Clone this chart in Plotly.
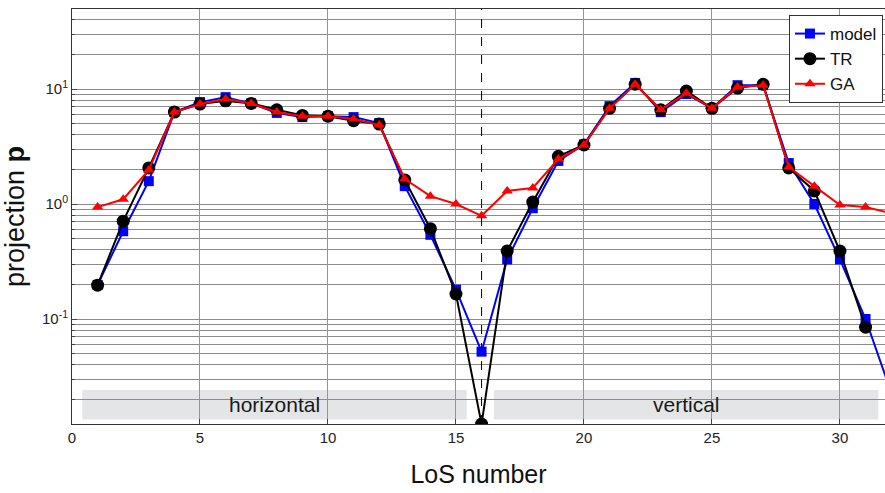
import math
import plotly.graph_objects as go

# LoS index 1..31 (plus one extra point past the right edge for the clipped segments)
los = list(range(1, 33))

model = [0.198, 0.58, 1.58, 6.3, 7.7, 8.5, 7.5, 6.2, 5.7, 5.8, 5.7, 5.06,
         1.43, 0.54, 0.18, 0.052, 0.33, 0.92, 2.37, 3.3, 7.1, 11.3, 6.3, 9.05,
         6.8, 10.8, 10.8, 2.27, 1.0, 0.33, 0.1, 0.023]
tr = [0.197, 0.71, 2.06, 6.3, 7.4, 7.9, 7.5, 6.6, 5.9, 5.8, 5.3, 4.96,
      1.62, 0.61, 0.165, 0.0122, 0.39, 1.04, 2.6, 3.26, 6.8, 11.0, 6.6, 9.6,
      6.8, 10.2, 11.0, 2.06, 1.3, 0.39, 0.085]
ga = [0.94, 1.1, 1.98, 6.3, 7.4, 8.2, 7.5, 6.3, 5.8, 5.8, 5.5, 4.86,
      1.65, 1.17, 1.0, 0.79, 1.3, 1.38, 2.46, 3.26, 6.8, 11.0, 6.6, 9.2,
      6.8, 10.4, 10.8, 2.1, 1.43, 0.98, 0.94, 0.83]

# orientation bands: (label, x0, x1)
bands = [("horizontal", 0.4, 15.42), ("vertical", 16.48, 31.5)]
band_y = (0.0134, 0.0241)
split_los = 16

x_ticks = [0, 5, 10, 15, 20, 25, 30]
y_ticks = [0.1, 1, 10]
y_ticktext = ["10<sup>-1</sup>", "10<sup>0</sup>", "10<sup>1</sup>"]
# minor log grid: 2..9 of each decade
y_minor = [m * 10.0 ** e for e in (-2, -1, 0, 1) for m in range(2, 10)]

fig = go.Figure()
fig.add_trace(go.Scatter(x=los[:len(model)], y=model, name="model", mode="lines+markers",
                         line=dict(color="#0000ff", width=2),
                         marker=dict(symbol="square", size=10, color="#0000ff")))
fig.add_trace(go.Scatter(x=los[:len(tr)], y=tr, name="TR", mode="lines+markers",
                         line=dict(color="#000000", width=2),
                         marker=dict(symbol="circle", size=13, color="#000000")))
fig.add_trace(go.Scatter(x=los[:len(ga)], y=ga, name="GA", mode="lines+markers",
                         line=dict(color="#ff0000", width=2),
                         marker=dict(symbol="triangle-up", size=10, color="#ff0000")))

for label, x0, x1 in bands:
    fig.add_shape(type="rect", x0=x0, x1=x1, y0=band_y[0], y1=band_y[1],
                  xref="x", yref="y", fillcolor="#e4e5e7", line=dict(width=0),
                  layer="below")
    # annotation positions on a log axis are given in log10 units
    fig.add_annotation(x=(x0 + x1) / 2,
                       y=(math.log10(band_y[0]) + math.log10(band_y[1])) / 2,
                       text=label, showarrow=False,
                       font=dict(size=21, color="#1a1a1a", family="Liberation Sans, Arial"))

fig.add_shape(type="line", x0=split_los, x1=split_los, y0=0, y1=1,
              xref="x", yref="paper", line=dict(color="black", width=1, dash="dash"))

fig.update_layout(
    width=885, height=493,
    margin=dict(l=72, r=0, t=9, b=69),
    paper_bgcolor="white", plot_bgcolor="white",
    font=dict(family="Liberation Sans, Arial", size=14, color="#222"),
    showlegend=True,
    legend=dict(x=0.9975, y=0.9855, xanchor="right", yanchor="top",
                bgcolor="white", bordercolor="#333", borderwidth=1,
                font=dict(size=17, color="#111"), tracegroupgap=0,
                itemwidth=30),
)

fig.update_xaxes(range=[0, 31.76], tickvals=x_ticks, ticks="inside", ticklen=5,
                 showgrid=True, gridcolor="#949494", gridwidth=1,
                 showline=True, linecolor="#333", linewidth=1, mirror=True,
                 zeroline=False,
                 title=dict(text="LoS number", font=dict(size=25, color="#111"), standoff=20),
                 tickfont=dict(size=15, color="#222"))
fig.update_yaxes(type="log", range=[-1.913, 1.696], tickvals=y_ticks, ticktext=y_ticktext,
                 ticks="inside", ticklen=5,
                 showgrid=True, gridcolor="#8c8c8c", gridwidth=1,
                 minor=dict(tickvals=y_minor, showgrid=True, gridcolor="#8c8c8c", gridwidth=1,
                            ticks="inside", ticklen=3),
                 showline=True, linecolor="#333", linewidth=1, mirror=True,
                 zeroline=False,
                 title=dict(text="projection <b>p</b>", font=dict(size=27, color="#111"), standoff=12),
                 tickfont=dict(size=15, color="#222"))

fig.write_html("out.html")
